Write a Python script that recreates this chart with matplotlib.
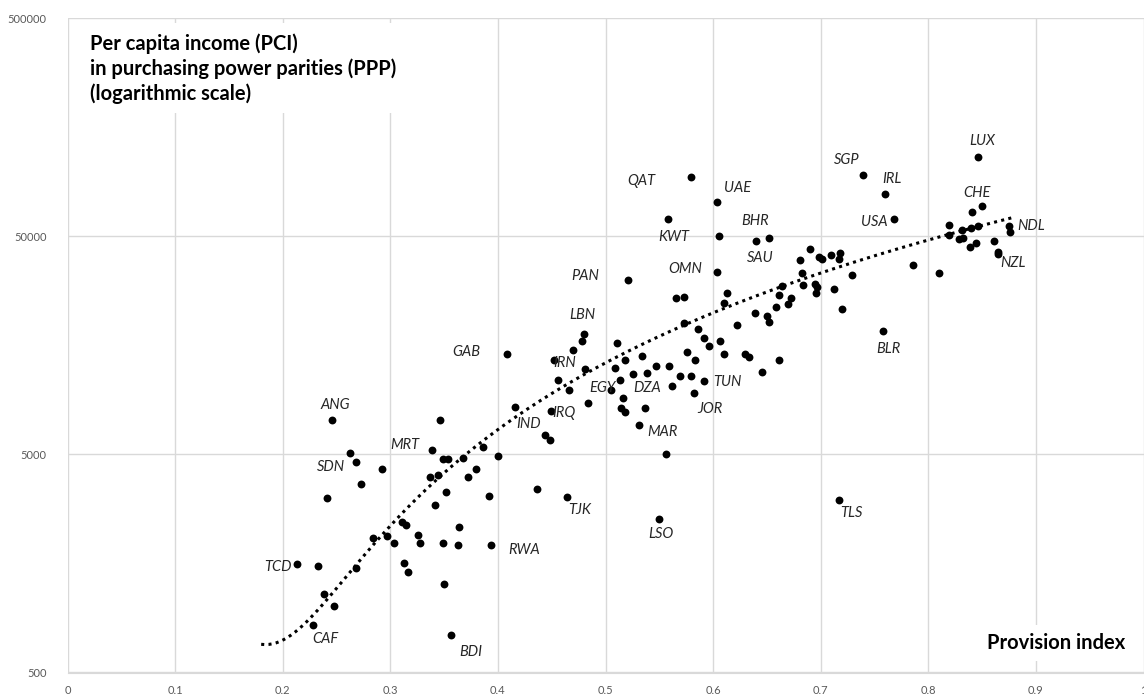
import numpy as np
import matplotlib.pyplot as plt
from matplotlib.patches import Rectangle

# labelled countries: provision index and per capita income (PPP)
labels = ['ANG', 'SDN', 'MRT', 'TCD', 'CAF', 'BDI', 'RWA', 'TJK', 'LSO', 'TLS',
          'MAR', 'JOR', 'TUN', 'DZA', 'EGY', 'IRQ', 'IND', 'IRN', 'GAB', 'LBN',
          'PAN', 'QAT', 'UAE', 'KWT', 'BHR', 'SAU', 'OMN', 'SGP', 'IRL', 'USA',
          'BLR', 'LUX', 'CHE', 'NDL', 'NZL']
lab_index = [0.246, 0.268, 0.339, 0.213, 0.228, 0.356, 0.394, 0.464, 0.550, 0.717,
             0.531, 0.582, 0.592, 0.537, 0.505, 0.449, 0.444, 0.452, 0.408, 0.480,
             0.521, 0.579, 0.604, 0.558, 0.640, 0.681, 0.604, 0.739, 0.760, 0.768,
             0.758, 0.846, 0.850, 0.875, 0.865]
lab_pci = [7160, 4595, 5250, 1566, 826, 740, 1914, 3197, 2534, 3086,
           6834, 9576, 10840, 8150, 9885, 7920, 6110, 13520, 14420, 17800,
           31550, 93000, 71450, 60100, 47630, 38720, 34120, 95560, 78200, 60100,
           18300, 115600, 68500, 55580, 41270]

# all other countries
other_index = [0.346, 0.263, 0.292, 0.2725, 0.2415, 0.349, 0.354, 0.3676, 0.386, 0.400,
               0.380, 0.372, 0.337, 0.344, 0.3515, 0.392, 0.3415, 0.3106, 0.315, 0.364,
               0.284, 0.2967, 0.3037, 0.3257, 0.3273, 0.3487, 0.3626, 0.2325, 0.268, 0.3127,
               0.316, 0.3496, 0.2387, 0.2477, 0.5655, 0.573, 0.5727, 0.5857, 0.4784, 0.4695,
               0.481, 0.456, 0.466, 0.5104, 0.518, 0.5086, 0.534, 0.5467, 0.559, 0.576,
               0.583, 0.5135, 0.526, 0.5386, 0.569, 0.5795, 0.5618, 0.516, 0.514, 0.518,
               0.4837, 0.416, 0.4484, 0.556, 0.4366, 0.6055, 0.652, 0.6126, 0.6104, 0.622,
               0.639, 0.650, 0.652, 0.658, 0.661, 0.664, 0.670, 0.6727, 0.690, 0.683,
               0.684, 0.695, 0.6966, 0.6956, 0.6987, 0.7015, 0.710, 0.718, 0.7173, 0.7288,
               0.7126, 0.7198, 0.592, 0.5965, 0.6064, 0.610, 0.6296, 0.6336, 0.661, 0.645,
               0.8406, 0.8194, 0.831, 0.8394, 0.846, 0.8194, 0.8286, 0.832, 0.8388, 0.844,
               0.861, 0.8645, 0.8762, 0.7855, 0.810]
other_pci = [7160, 5085, 4285, 3644, 3162, 4774, 4774, 4820, 5400, 4895,
             4285, 3947, 3947, 4031, 3357, 3229, 2920, 2440, 2364, 2321,
             2074, 2118, 1955, 2140, 1968, 1955, 1914, 1534, 1510, 1582,
             1440, 1276, 1142, 1012, 26100, 26300, 20050, 18820, 16520, 15070,
             12340, 10950, 9885, 16240, 13520, 12470, 14060, 12730, 12730, 14670,
             13520, 10950, 11630, 11750, 11390, 11390, 10280, 9030, 8150, 7835,
             8590, 8240, 5833, 5035, 3467, 50060, 49160, 27510, 24670, 19630,
             22150, 21590, 20200, 23600, 26770, 29450, 24500, 26100, 43640, 33860,
             29930, 30240, 29110, 27350, 39960, 39150, 40970, 41970, 39380, 33170,
             28510, 23230, 17010, 15730, 16520, 14360, 14420, 13960, 13520, 11880,
             64450, 56050, 53340, 54460, 55460, 50600, 48320, 48850, 44450, 46350,
             47630, 42150, 52220, 36730, 33860]

# trend line values (2nd order polynomial trend)
trend_x = [0.18, 0.227, 0.29, 0.34, 0.5, 0.7, 0.8775]
trend_y = [598, 840, 2024, 3813, 13640, 33180, 60950]

# label offsets in pixels (dx right, dy up)
lab_dx = [3, -25, -27, -19, 13, 20, 33, 13, 2, 12, 24, 16, 23, 2, -8, 13, -17, 11, -40, -2,
          -43, -49, 20, 6, -1, -40, -32, -16, 7, -20, 5, 4, -5, 22, 15]
lab_dy = [15, -5, 5, -3, -14, -17, -5, -13, -15, -13, -7, -16, -1, 20, 2, -2, 11, -3, 2, 19,
          4, -4, 14, -18, 20, 2, 3, 15, 15, -3, -18, 16, 13, 0, -9]

x = np.array(lab_index + other_index)
y = np.array(lab_pci + other_pci)

# smooth polynomial trend through the read values
coef = np.polyfit(trend_x, trend_y, 2)
xt = np.linspace(trend_x[0], trend_x[-1], 200)
yt = np.polyval(coef, xt)

plt.rcParams['font.family'] = ['Lato', 'DejaVu Sans']

fig = plt.figure(figsize=(11.44, 6.99), dpi=100)
ax = fig.add_axes([67.5 / 1144, 26.5 / 699, 1076 / 1144, 654.5 / 699])

ax.scatter(x, y, s=32, color='black', zorder=3, linewidths=0)
ax.plot(xt, yt, color='black', linewidth=2.2, linestyle=(0, (1, 1.4)), zorder=2)

for name, px, py, dx, dy in zip(labels, lab_index, lab_pci, lab_dx, lab_dy):
    ax.annotate(name, (px, py), xytext=(dx, dy), textcoords='offset pixels',
                ha='center', va='center', fontsize=10.5, style='italic', color='#262626')

ax.set_yscale('log')
ax.set_xlim(0, 1)
ax.set_ylim(500, 500000)
ax.set_xticks(np.arange(0, 1.01, 0.1))
ax.set_xticklabels(['0', '0.1', '0.2', '0.3', '0.4', '0.5', '0.6', '0.7', '0.8', '0.9', '1'])
ax.set_yticks([500, 5000, 50000, 500000])
ax.set_yticklabels(['500', '5000', '50000', '500000'])
ax.yaxis.set_minor_locator(plt.NullLocator())
ax.tick_params(length=0, labelsize=8, labelcolor='#595959')
ax.tick_params(axis='y', pad=15)
ax.tick_params(axis='x', pad=9)
ax.grid(True, color='#d9d9d9', linewidth=1)
ax.set_axisbelow(True)
for side in ['top', 'right', 'left']:
    ax.spines[side].set_visible(False)
ax.spines['bottom'].set_color('#d9d9d9')

# axis titles sit in white boxes inside the plot
ax.add_patch(Rectangle((0.003, 0.855), 0.33, 0.138, transform=ax.transAxes,
                       facecolor='white', edgecolor='none', zorder=1))
ax.text(0.021, 0.976, 'Per capita income (PCI)\nin purchasing power parities (PPP)\n(logarithmic scale)',
        transform=ax.transAxes, ha='left', va='top', fontsize=14.5, fontweight='bold',
        linespacing=1.25, zorder=4)
ax.text(0.983, 0.045, 'Provision index', transform=ax.transAxes, ha='right', va='center',
        fontsize=14.5, fontweight='bold', zorder=4,
        bbox=dict(facecolor='white', edgecolor='none', pad=6))

fig.savefig('out.png', dpi=100)
